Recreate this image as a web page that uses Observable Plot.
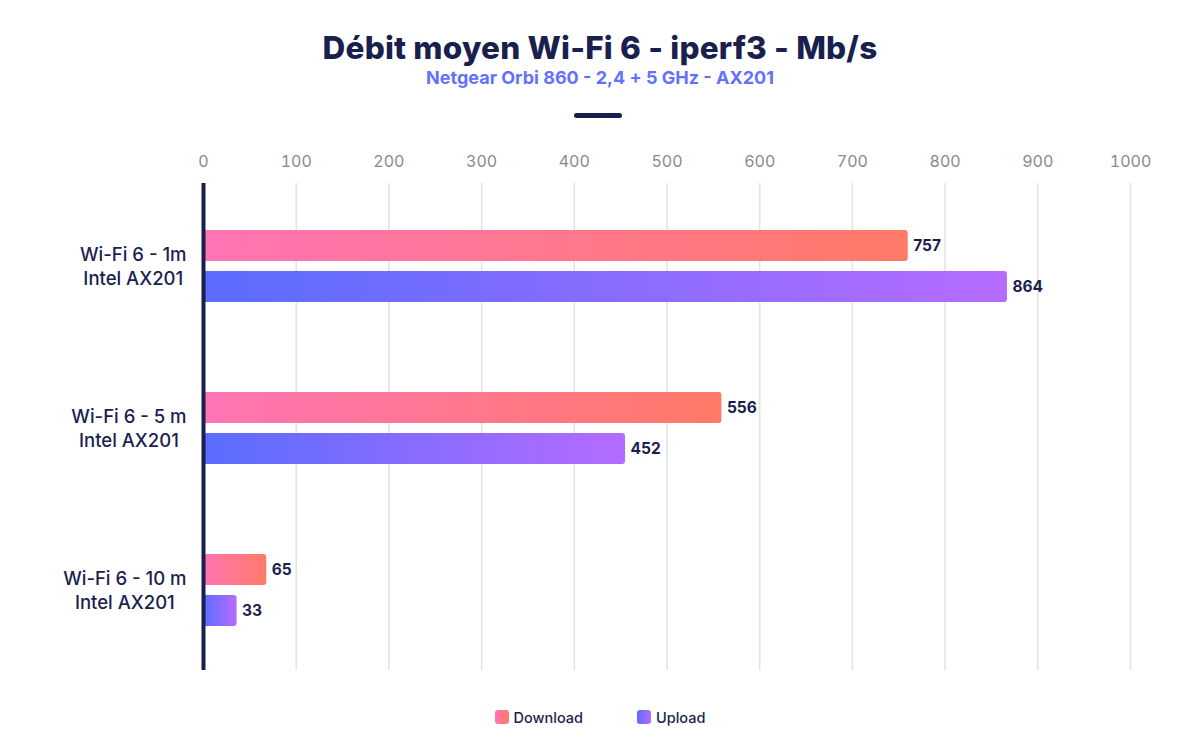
<!DOCTYPE html>
<html>
<head>
<meta charset="utf-8">
<script src="https://cdn.jsdelivr.net/npm/d3@7"></script>
<script src="https://cdn.jsdelivr.net/npm/@observablehq/plot@0.6"></script>
<style>
  html, body { margin: 0; padding: 0; background: #fff; width: 1200px; height: 755px; overflow: hidden; }
  body { font-family: "Inter", "Open Sans", sans-serif; color: #1a1f4e; }
  #header { position: relative; height: 140px; width: 1200px; }
  #title { position: absolute; top: 28px; width: 100%; text-align: center; font-size: 31.5px; font-weight: 800; color: #1a1f4e; letter-spacing: 0.2px; }
  #subtitle { position: absolute; top: 67px; width: 100%; text-align: center; font-size: 18px; font-weight: 700; color: #6272ff; }
  #rule { position: absolute; top: 113px; left: 574px; width: 48px; height: 5px; border-radius: 3px; background: #1a1f4e; }
  #chart { height: 560px; }
  #legend { display: flex; justify-content: center; align-items: center; gap: 0; height: 34px; font-size: 14.5px; font-weight: 500; color: #1a1f4e; }
  .item { display: flex; align-items: center; }
  .sw { width: 14px; height: 14px; border-radius: 3px; margin-right: 5px; }
</style>
</head>
<body>
<div id="header">
  <div id="title">Débit moyen Wi-Fi 6 - iperf3 - Mb/s</div>
  <div id="subtitle">Netgear Orbi 860 - 2,4 + 5 GHz - AX201</div>
  <div id="rule"></div>
</div>
<div id="chart"></div>
<div id="legend">
  <div class="item" style="margin-right:54px"><div class="sw" style="background:linear-gradient(90deg,#ff74b4,#ff7a68)"></div>Download</div>
  <div class="item"><div class="sw" style="background:linear-gradient(90deg,#5a6dff,#b56bff)"></div>Upload</div>
</div>
<script>
const groups = ["Wi-Fi 6 - 1m\nIntel AX201", "Wi-Fi 6 - 5 m\nIntel AX201", "Wi-Fi 6 - 10 m\nIntel AX201"];
const download = [757, 556, 65];
const upload = [864, 452, 33];
const xTicks = [0, 100, 200, 300, 400, 500, 600, 700, 800, 900, 1000];

const dl = groups.map((g, i) => ({group: g, value: download[i]}));
const ul = groups.map((g, i) => ({group: g, value: upload[i]}));

const navy = "#1a1f4e";

const plot = Plot.plot({
  width: 1200,
  height: 560,
  marginTop: 43,
  marginLeft: 203,
  marginRight: 70,
  marginBottom: 30,
  style: {fontFamily: "Inter, 'Open Sans', sans-serif", background: "transparent"},
  x: {domain: [0, 1000], label: null},
  y: {domain: groups, padding: 0, label: null},
  marks: [
    Plot.ruleX(xTicks.filter(d => d > 0), {stroke: "#e2e2e2", strokeWidth: 1.5}),
    Plot.barX(dl, {x: "value", y: "group", fill: "url(#gradDown)", insetTop: 46, insetBottom: 85, insetRight: -3, rx: 3}),
    Plot.barX(ul, {x: "value", y: "group", fill: "url(#gradUp)", insetTop: 87, insetBottom: 44, insetRight: -3, rx: 3}),
    Plot.ruleX([0], {stroke: navy, strokeWidth: 4}),
    Plot.text(dl, {x: "value", y: "group", text: d => String(d.value), dx: 8, dy: -19.5, textAnchor: "start", fill: navy, fontSize: 15.5, fontWeight: 700}),
    Plot.text(ul, {x: "value", y: "group", text: d => String(d.value), dx: 8, dy: 21.5, textAnchor: "start", fill: navy, fontSize: 15.5, fontWeight: 700}),
    Plot.axisX({anchor: "top", ticks: xTicks, tickFormat: d => String(d), tickSize: 0, tickPadding: 17, fontSize: 16, color: "#8a8a8a", label: null}),
    Plot.axisY({tickSize: 0, tickPadding: 17, fontSize: 18.5, fontWeight: 500, color: navy, label: null, lineHeight: 1.3})
  ]
});

// gradients (objectBoundingBox so each bar runs from its own start to end)
const svg = d3.select(plot);
const defs = svg.insert("defs", ":first-child");
const g1 = defs.append("linearGradient").attr("id", "gradDown").attr("x1", 0).attr("x2", 1).attr("y1", 0).attr("y2", 0);
g1.append("stop").attr("offset", "0%").attr("stop-color", "#ff74b4");
g1.append("stop").attr("offset", "100%").attr("stop-color", "#ff7a68");
const g2 = defs.append("linearGradient").attr("id", "gradUp").attr("x1", 0).attr("x2", 1).attr("y1", 0).attr("y2", 0);
g2.append("stop").attr("offset", "0%").attr("stop-color", "#5a6dff");
g2.append("stop").attr("offset", "100%").attr("stop-color", "#b56bff");

document.getElementById("chart").appendChild(plot);

// center the two lines of each y label while keeping the block right-aligned
svg.selectAll("g[aria-label='y-axis tick label'] text").each(function() {
  const t = d3.select(this);
  const spans = t.selectAll("tspan");
  let maxW = 0;
  spans.each(function() { maxW = Math.max(maxW, this.getComputedTextLength()); });
  t.attr("text-anchor", "middle");
  const shift = -maxW / 2;
  const tr = t.attr("transform") || "";
  t.attr("transform", tr + ` translate(${shift},0)`);
});
</script>
</body>
</html>
